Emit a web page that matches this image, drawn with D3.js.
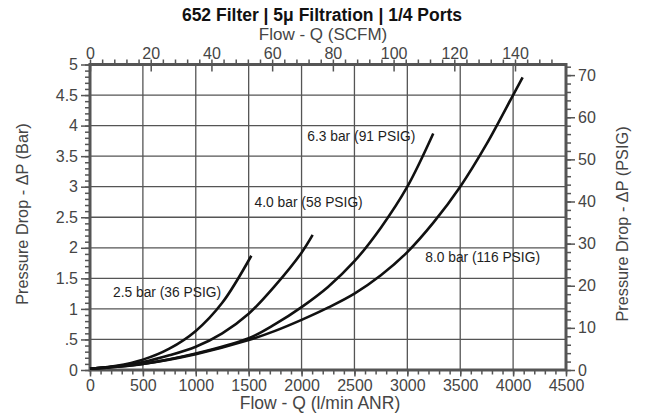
<!DOCTYPE html>
<html>
<head>
<meta charset="utf-8">
<script src="https://cdn.jsdelivr.net/npm/d3@7"></script>
<style>
  body { margin: 0; background: #fff; }
  text { font-family: "Liberation Sans", Arial, Helvetica, sans-serif; }
</style>
</head>
<body>
<script>
// flow in l/min ANR, pressure drop in bar
var flow25 = [0, 250, 500, 750, 1000, 1250, 1525];
var drop25 = [0.02, 0.07, 0.17, 0.35, 0.64, 1.1, 1.87];
var flow40 = [0, 250, 500, 750, 1000, 1250, 1500, 1750, 2000, 2105];
var drop40 = [0.02, 0.06, 0.13, 0.24, 0.38, 0.6, 0.92, 1.38, 1.92, 2.21];
var flow63 = [0, 500, 1000, 1500, 1750, 2000, 2250, 2500, 2750, 3000, 3245];
var drop63 = [0.02, 0.1, 0.27, 0.52, 0.75, 1.03, 1.36, 1.78, 2.33, 3.0, 3.87];
var flow80 = [0, 500, 1000, 1500, 1750, 2000, 2250, 2500, 2750, 3000, 3250, 3500, 3750, 4000, 4090];
var drop80 = [0.02, 0.1, 0.26, 0.49, 0.64, 0.82, 1.02, 1.25, 1.55, 1.93, 2.42, 3.0, 3.7, 4.5, 4.79];

var seriesNames = ["2.5 bar (36 PSIG)", "4.0 bar (58 PSIG)", "6.3 bar (91 PSIG)", "8.0 bar (116 PSIG)"];
// label anchor (flow, bar) for each series name
var labelFlow = [217, 1556, 2054, 3169];
var labelBar = [1.2, 2.67, 3.74, 1.77];

var xTicks = [0, 500, 1000, 1500, 2000, 2500, 3000, 3500, 4000, 4500];
var yTicks = [0, 0.5, 1, 1.5, 2, 2.5, 3, 3.5, 4, 4.5, 5];
var yTickLabels = ["0", ".5", "1", "1.5", "2", "2.5", "3", "3.5", "4", "4.5", "5"];
var scfmTicks = [0, 20, 40, 60, 80, 100, 120, 140];
var psigTicks = [0, 10, 20, 30, 40, 50, 60, 70];

var LPM_PER_SCFM = 28.7;
var PSI_PER_BAR = 14.5038;

var width = 645, height = 415;
var plotL = 90, plotR = 566, plotT = 64.5, plotB = 370;
var axisColor = "#555", textColor = "#454545";

var svg = d3.select("body").append("svg")
    .attr("width", width)
    .attr("height", height);

var x = d3.scaleLinear().domain([0, 4500]).range([plotL, plotR]);
var y = d3.scaleLinear().domain([0, 5]).range([plotB, plotT]);
var xTop = d3.scaleLinear().domain([0, 4500 / LPM_PER_SCFM]).range([plotL, plotR]);
var yRight = d3.scaleLinear().domain([0, 5 * PSI_PER_BAR]).range([plotB, plotT]);

// grid
svg.append("g").selectAll("line").data(xTicks.slice(1, -1)).enter().append("line")
    .attr("x1", d => x(d)).attr("x2", d => x(d))
    .attr("y1", plotT).attr("y2", plotB)
    .attr("stroke", axisColor).attr("stroke-width", 1.3);
svg.append("g").selectAll("line").data(yTicks.slice(1, -1)).enter().append("line")
    .attr("x1", plotL).attr("x2", plotR)
    .attr("y1", d => y(d)).attr("y2", d => y(d))
    .attr("stroke", axisColor).attr("stroke-width", 1.3);

// axes
function styleAxis(g) {
  g.select(".domain").remove();
  g.selectAll("line").attr("stroke", axisColor).attr("stroke-width", 1.5);
  g.selectAll("text").attr("fill", textColor).style("font-size", "16px");
}

// minor ticks
svg.append("g").attr("transform", "translate(0," + plotB + ")")
    .call(d3.axisBottom(x).tickValues(d3.range(0, 4501, 100)).tickSize(4.5).tickFormat(""))
    .call(styleAxis);
svg.append("g").attr("transform", "translate(" + plotL + ",0)")
    .call(d3.axisLeft(y).tickValues(d3.range(0, 51, 1).map(d => d / 10)).tickSize(5).tickFormat(""))
    .call(styleAxis);
svg.append("g").attr("transform", "translate(0," + plotT + ")")
    .call(d3.axisTop(xTop).tickValues(d3.range(0, 156, 4)).tickSize(5).tickFormat(""))
    .call(styleAxis);
svg.append("g").attr("transform", "translate(" + plotR + ",0)")
    .call(d3.axisRight(yRight).tickValues(d3.range(0, 73, 2)).tickSize(5).tickFormat(""))
    .call(styleAxis);

// major ticks and labels
svg.append("g").attr("transform", "translate(0," + plotB + ")")
    .call(d3.axisBottom(x).tickValues(xTicks).tickSize(6.5).tickPadding(3.5).tickFormat(d3.format("d")))
    .call(styleAxis);
svg.append("g").attr("transform", "translate(" + plotL + ",0)")
    .call(d3.axisLeft(y).tickValues(yTicks).tickSize(9).tickPadding(3).tickFormat((d, i) => yTickLabels[i]))
    .call(styleAxis);
svg.append("g").attr("transform", "translate(0," + plotT + ")")
    .call(d3.axisTop(xTop).tickValues(scfmTicks).tickSize(-7).tickPadding(6).tickFormat(d3.format("d")))
    .call(styleAxis);
svg.append("g").attr("transform", "translate(" + plotR + ",0)")
    .call(d3.axisRight(yRight).tickValues(psigTicks).tickSize(9).tickPadding(3).tickFormat(d3.format("d")))
    .call(styleAxis);

// frame
svg.append("rect")
    .attr("x", plotL).attr("y", plotT)
    .attr("width", plotR - plotL).attr("height", plotB - plotT)
    .attr("fill", "none").attr("stroke", axisColor).attr("stroke-width", 3);

// curves
var line = d3.line()
    .x(d => x(d[0])).y(d => y(d[1]))
    .curve(d3.curveCatmullRom.alpha(0.5));
var allFlows = [flow25, flow40, flow63, flow80];
var allDrops = [drop25, drop40, drop63, drop80];
allFlows.forEach(function(f, i) {
  svg.append("path")
      .datum(f.map((v, j) => [v, allDrops[i][j]]))
      .attr("d", line)
      .attr("fill", "none")
      .attr("stroke", "#111")
      .attr("stroke-width", 2.6);
});

// curve labels
seriesNames.forEach(function(name, i) {
  svg.append("text")
      .attr("x", x(labelFlow[i])).attr("y", y(labelBar[i]))
      .attr("fill", "#1e1e1e")
      .style("font-size", "13.8px")
      .text(name);
});

// titles
svg.append("text")
    .attr("x", 322).attr("y", 20.5)
    .attr("text-anchor", "middle")
    .attr("fill", "#111")
    .style("font-size", "17.5px").style("font-weight", "bold")
    .text("652 Filter | 5μ Filtration | 1/4 Ports");
svg.append("text")
    .attr("x", 323).attr("y", 39.5)
    .attr("text-anchor", "middle")
    .attr("fill", textColor).style("font-size", "17px")
    .text("Flow - Q (SCFM)");
svg.append("text")
    .attr("x", 320).attr("y", 409)
    .attr("text-anchor", "middle")
    .attr("fill", textColor).style("font-size", "17.5px")
    .text("Flow - Q (l/min ANR)");
svg.append("text")
    .attr("transform", "translate(28,214) rotate(-90)")
    .attr("text-anchor", "middle")
    .attr("fill", textColor).style("font-size", "16.3px")
    .text("Pressure Drop - ΔP (Bar)");
svg.append("text")
    .attr("transform", "translate(628,224) rotate(-90)")
    .attr("text-anchor", "middle")
    .attr("fill", textColor).style("font-size", "16.3px")
    .text("Pressure Drop - ΔP (PSIG)");
</script>
</body>
</html>
